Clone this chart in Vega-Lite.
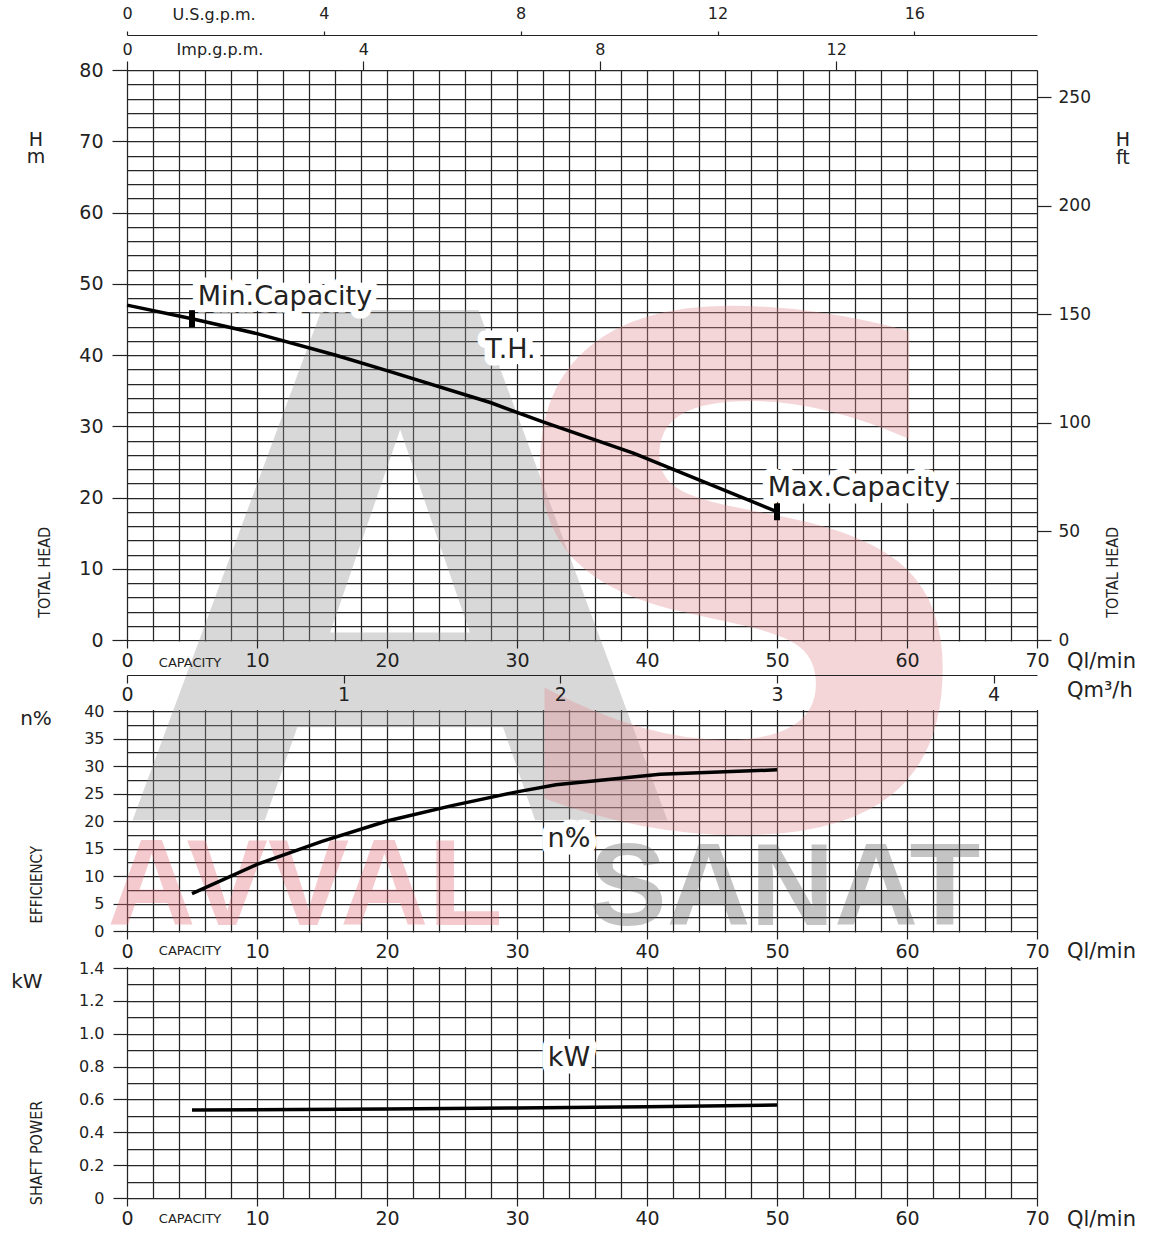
{
  "$schema": "https://vega.github.io/schema/vega-lite/v6.json",
  "background": "white",
  "padding": {"left": 11, "top": 5, "right": 5, "bottom": 5},
  "config": {
    "view": {"stroke": null},
    "font": "DejaVu Sans",
    "axis": {
      "labelFont": "DejaVu Sans",
      "labelColor": "#222",
      "tickColor": "#222",
      "domainColor": "#222",
      "gridColor": "#262626",
      "gridWidth": 1.25,
      "gridOpacity": 1,
      "tickWidth": 1.2,
      "domainWidth": 1.2,
      "labelOverlap": false,
      "labelFlush": false
    },
    "text": {"font": "DejaVu Sans", "color": "#222"}
  },
  "datasets": {
    "head": [
      {"Q": 0, "H": 47.0}, {"Q": 5, "H": 45.1}, {"Q": 10, "H": 43.0}, {"Q": 16, "H": 40.0},
      {"Q": 20, "H": 37.8}, {"Q": 28, "H": 33.3}, {"Q": 32, "H": 30.6}, {"Q": 39, "H": 26.2},
      {"Q": 50, "H": 18.0}
    ],
    "limits": [{"Q": 5, "H": 45.1}, {"Q": 50, "H": 18.0}],
    "eff": [
      {"Q": 5, "E": 6.8}, {"Q": 10, "E": 12.1}, {"Q": 15, "E": 16.3}, {"Q": 20, "E": 20.0},
      {"Q": 25, "E": 22.8}, {"Q": 30, "E": 25.3}, {"Q": 33, "E": 26.6}, {"Q": 41, "E": 28.5},
      {"Q": 50, "E": 29.3}
    ],
    "power": [
      {"Q": 5, "P": 0.535}, {"Q": 20, "P": 0.542}, {"Q": 30, "P": 0.548}, {"Q": 40, "P": 0.556},
      {"Q": 50, "P": 0.566}
    ]
  },
  "width": 910,
  "height": 1128,
  "resolve": {"scale": {"y": "independent"}, "axis": {"x": "independent", "y": "independent"}},
  "layer": [
    {
      "data": {"values": [{}]},
      "mark": {"type": "rect", "fill": "white", "opacity": 1},
      "encoding": {
        "x": {"datum": -0.3, "type": "quantitative", "scale": {"domain": [0, 70], "nice": false, "zero": false}, "axis": null},
        "x2": {"datum": 70.3},
        "y": {"datum": 0, "type": "quantitative", "scale": {"domain": [0, 1], "range": [640, 571.5], "nice": false, "zero": false}, "axis": null},
        "y2": {"datum": 1}
      }
    },
    {
      "data": {"values": [{}]},
      "mark": {"type": "rect", "fill": "white", "opacity": 1},
      "encoding": {
        "x": {"datum": -0.3, "type": "quantitative", "axis": null},
        "x2": {"datum": 70.3},
        "y": {"datum": 0, "type": "quantitative", "scale": {"domain": [0, 1], "range": [897, 862.5], "nice": false, "zero": false}, "axis": null},
        "y2": {"datum": 1}
      }
    },
    {
      "data": {"values": [{"Q": 21.0, "H": -25.3, "t": "A"}]},
      "mark": {"type": "text", "font": "DejaVu Sans", "fontWeight": "bold", "fontSize": 700, "align": "center", "baseline": "alphabetic", "color": "#929292", "opacity": 0.35},
      "encoding": {
        "x": {"field": "Q", "type": "quantitative", "axis": null},
        "y": {"field": "H", "type": "quantitative", "scale": {"domain": [0, 80], "range": [570, 0], "nice": false, "zero": false}, "axis": null},
        "text": {"field": "t", "type": "nominal"}}
    },
    {
      "data": {"values": [{"Q": 47.3, "H": -26.0, "t": "S"}]},
      "mark": {"type": "text", "font": "DejaVu Sans", "fontWeight": "bold", "fontSize": 700, "align": "center", "baseline": "alphabetic", "color": "#e28d92", "opacity": 0.35},
      "encoding": {
        "x": {"field": "Q", "type": "quantitative", "axis": null},
        "y": {"field": "H", "type": "quantitative", "scale": {"domain": [0, 80], "range": [570, 0], "nice": false, "zero": false}, "axis": null},
        "text": {"field": "t", "type": "nominal"}}
    },
    {
      "data": {"values": [{"Q": 13.7, "H": -40.0, "t": "AVVAL"}]},
      "mark": {"type": "text", "font": "Liberation Sans", "fontWeight": "bold", "fontSize": 122, "align": "center", "baseline": "alphabetic", "color": "#e06a74", "opacity": 0.35},
      "encoding": {
        "x": {"field": "Q", "type": "quantitative", "axis": null},
        "y": {"field": "H", "type": "quantitative", "scale": {"domain": [0, 80], "range": [570, 0], "nice": false, "zero": false}, "axis": null},
        "text": {"field": "t", "type": "nominal"}}
    },
    {
      "data": {"values": [{"Q": 50.6, "H": -40.0, "t": "SANAT"}]},
      "mark": {"type": "text", "font": "Liberation Sans", "fontWeight": "bold", "fontSize": 116, "align": "center", "baseline": "alphabetic", "color": "#5a5a5a", "opacity": 0.35},
      "encoding": {
        "x": {"field": "Q", "type": "quantitative", "axis": null},
        "y": {"field": "H", "type": "quantitative", "scale": {"domain": [0, 80], "range": [570, 0], "nice": false, "zero": false}, "axis": null},
        "text": {"field": "t", "type": "nominal"}}
    },
    {
      "data": {"name": "head"},
      "mark": {"type": "line", "color": "black", "strokeWidth": 3.5},
      "encoding": {
        "x": {"field": "Q", "type": "quantitative", "axis": null},
        "y": {"field": "H", "type": "quantitative",
          "scale": {"domain": [0, 80], "range": [570, 0], "nice": false, "zero": false},
          "axis": {"orient": "left", "title": null, "grid": true, "domain": false,
            "values": [0,2,4,6,8,10,12,14,16,18,20,22,24,26,28,30,32,34,36,38,40,42,44,46,48,50,52,54,56,58,60,62,64,66,68,70,72,74,76,78,80],
            "tickSize": 15,
            "tickOpacity": {"condition": {"test": "datum.value % 10 === 0", "value": 1}, "value": 0},
            "labelExpr": "datum.value % 10 === 0 ? datum.label : ''",
            "labelFontSize": 19, "labelPadding": 9}}
      }
    },
    {
      "data": {"name": "limits"},
      "mark": {"type": "tick", "orient": "vertical", "size": 17, "thickness": 6, "color": "black", "opacity": 1},
      "encoding": {
        "x": {"field": "Q", "type": "quantitative", "axis": null},
        "y": {"field": "H", "type": "quantitative", "scale": {"domain": [0, 80], "range": [570, 0], "nice": false, "zero": false}, "axis": null}}
    },
    {
      "data": {"values": [
        {"Q": 12.15, "H": 48.1, "t": "Min.Capacity"},
        {"Q": 29.5, "H": 40.7, "t": "T.H."},
        {"Q": 56.3, "H": 21.3, "t": "Max.Capacity"}
      ]},
      "mark": {"type": "text", "fontSize": 27, "align": "center", "baseline": "middle", "fill": "white", "stroke": "white", "strokeWidth": 15, "strokeJoin": "round"},
      "encoding": {
        "x": {"field": "Q", "type": "quantitative", "axis": null},
        "y": {"field": "H", "type": "quantitative", "scale": {"domain": [0, 80], "range": [570, 0], "nice": false, "zero": false}, "axis": null},
        "text": {"field": "t", "type": "nominal"}}
    },
    {
      "data": {"values": [
        {"Q": 12.15, "H": 48.1, "t": "Min.Capacity"},
        {"Q": 29.5, "H": 40.7, "t": "T.H."},
        {"Q": 56.3, "H": 21.3, "t": "Max.Capacity"}
      ]},
      "mark": {"type": "text", "fontSize": 27, "align": "center", "baseline": "middle", "color": "#222"},
      "encoding": {
        "x": {"field": "Q", "type": "quantitative", "axis": null},
        "y": {"field": "H", "type": "quantitative", "scale": {"domain": [0, 80], "range": [570, 0], "nice": false, "zero": false}, "axis": null},
        "text": {"field": "t", "type": "nominal"}}
    },
    {
      "data": {"values": [
        {"Q": -7.0, "H": 70.2, "t": "H"},
        {"Q": -7.0, "H": 67.8, "t": "m"},
        {"Q": 76.6, "H": 70.2, "t": "H"},
        {"Q": 76.6, "H": 67.6, "t": "ft"}
      ]},
      "mark": {"type": "text", "fontSize": 19, "align": "center", "baseline": "middle", "color": "#222"},
      "encoding": {
        "x": {"field": "Q", "type": "quantitative", "axis": null},
        "y": {"field": "H", "type": "quantitative", "scale": {"domain": [0, 80], "range": [570, 0], "nice": false, "zero": false}, "axis": null},
        "text": {"field": "t", "type": "nominal"}}
    },
    {
      "data": {"values": [
        {"Q": 72.3, "H": -3.1, "t": "Ql/min"},
        {"Q": 72.3, "H": -7.2, "t": "Qm³/h"}
      ]},
      "mark": {"type": "text", "fontSize": 21, "align": "left", "baseline": "middle", "color": "#222"},
      "encoding": {
        "x": {"field": "Q", "type": "quantitative", "axis": null},
        "y": {"field": "H", "type": "quantitative", "scale": {"domain": [0, 80], "range": [570, 0], "nice": false, "zero": false}, "axis": null},
        "text": {"field": "t", "type": "nominal"}}
    },
    {
      "data": {"values": [
        {"Q": 6.7, "H": 87.7, "t": "U.S.g.p.m."},
        {"Q": 7.15, "H": 82.8, "t": "Imp.g.p.m."}
      ]},
      "mark": {"type": "text", "fontSize": 16, "align": "center", "baseline": "middle", "color": "#222"},
      "encoding": {
        "x": {"field": "Q", "type": "quantitative", "axis": null},
        "y": {"field": "H", "type": "quantitative", "scale": {"domain": [0, 80], "range": [570, 0], "nice": false, "zero": false}, "axis": null},
        "text": {"field": "t", "type": "nominal"}}
    },
    {
      "data": {"values": [{"Q": 4.85, "H": -3.2, "t": "CAPACITY"}]},
      "mark": {"type": "text", "fontSize": 13, "align": "center", "baseline": "middle", "color": "#222"},
      "encoding": {
        "x": {"field": "Q", "type": "quantitative", "axis": null},
        "y": {"field": "H", "type": "quantitative", "scale": {"domain": [0, 80], "range": [570, 0], "nice": false, "zero": false}, "axis": null},
        "text": {"field": "t", "type": "nominal"}}
    },
    {
      "data": {"values": [
        {"Q": -6.3, "H": 9.5, "t": "TOTAL HEAD"},
        {"Q": 75.85, "H": 9.5, "t": "TOTAL HEAD"}
      ]},
      "mark": {"type": "text", "font": "DejaVu Sans Condensed, Roboto", "fontSize": 16, "angle": 270, "align": "center", "baseline": "middle", "color": "#222"},
      "encoding": {
        "x": {"field": "Q", "type": "quantitative", "axis": null},
        "y": {"field": "H", "type": "quantitative", "scale": {"domain": [0, 80], "range": [570, 0], "nice": false, "zero": false}, "axis": null},
        "text": {"field": "t", "type": "nominal"}}
    },
    {
      "data": {"name": "eff"},
      "mark": {"type": "line", "color": "black", "strokeWidth": 3.5},
      "encoding": {
        "x": {"field": "Q", "type": "quantitative", "axis": null},
        "y": {"field": "E", "type": "quantitative",
          "scale": {"domain": [0, 40], "range": [861, 641], "nice": false, "zero": false},
          "axis": {"orient": "left", "title": null, "grid": true, "domain": false,
            "values": [0,2.5,5,7.5,10,12.5,15,17.5,20,22.5,25,27.5,30,32.5,35,37.5,40],
            "tickSize": 14,
            "tickOpacity": {"condition": {"test": "datum.value % 5 === 0", "value": 1}, "value": 0},
            "labelExpr": "datum.value % 5 === 0 ? datum.label : ''",
            "labelFontSize": 16, "labelPadding": 9}}
      }
    },
    {
      "data": {"values": [{"Q": 34.0, "E": 16.7, "t": "n%"}]},
      "mark": {"type": "text", "fontSize": 27, "align": "center", "baseline": "middle", "fill": "white", "stroke": "white", "strokeWidth": 15, "strokeJoin": "round"},
      "encoding": {
        "x": {"field": "Q", "type": "quantitative", "axis": null},
        "y": {"field": "E", "type": "quantitative", "scale": {"domain": [0, 40], "range": [861, 641], "nice": false, "zero": false}, "axis": null},
        "text": {"field": "t", "type": "nominal"}}
    },
    {
      "data": {"values": [{"Q": 34.0, "E": 16.7, "t": "n%"}]},
      "mark": {"type": "text", "fontSize": 27, "align": "center", "baseline": "middle", "color": "#222"},
      "encoding": {
        "x": {"field": "Q", "type": "quantitative", "axis": null},
        "y": {"field": "E", "type": "quantitative", "scale": {"domain": [0, 40], "range": [861, 641], "nice": false, "zero": false}, "axis": null},
        "text": {"field": "t", "type": "nominal"}}
    },
    {
      "data": {"values": [{"Q": -7.0, "E": 38.5, "t": "n%"}]},
      "mark": {"type": "text", "fontSize": 20, "align": "center", "baseline": "middle", "color": "#222"},
      "encoding": {
        "x": {"field": "Q", "type": "quantitative", "axis": null},
        "y": {"field": "E", "type": "quantitative", "scale": {"domain": [0, 40], "range": [861, 641], "nice": false, "zero": false}, "axis": null},
        "text": {"field": "t", "type": "nominal"}}
    },
    {
      "data": {"values": [{"Q": 72.3, "E": -3.9, "t": "Ql/min"}]},
      "mark": {"type": "text", "fontSize": 21, "align": "left", "baseline": "middle", "color": "#222"},
      "encoding": {
        "x": {"field": "Q", "type": "quantitative", "axis": null},
        "y": {"field": "E", "type": "quantitative", "scale": {"domain": [0, 40], "range": [861, 641], "nice": false, "zero": false}, "axis": null},
        "text": {"field": "t", "type": "nominal"}}
    },
    {
      "data": {"values": [{"Q": 4.85, "E": -3.6, "t": "CAPACITY"}]},
      "mark": {"type": "text", "fontSize": 13, "align": "center", "baseline": "middle", "color": "#222"},
      "encoding": {
        "x": {"field": "Q", "type": "quantitative", "axis": null},
        "y": {"field": "E", "type": "quantitative", "scale": {"domain": [0, 40], "range": [861, 641], "nice": false, "zero": false}, "axis": null},
        "text": {"field": "t", "type": "nominal"}}
    },
    {
      "data": {"values": [{"Q": -6.9, "E": 8.4, "t": "EFFICIENCY"}]},
      "mark": {"type": "text", "font": "DejaVu Sans Condensed, Roboto", "fontSize": 15, "angle": 270, "align": "center", "baseline": "middle", "color": "#222"},
      "encoding": {
        "x": {"field": "Q", "type": "quantitative", "axis": null},
        "y": {"field": "E", "type": "quantitative", "scale": {"domain": [0, 40], "range": [861, 641], "nice": false, "zero": false}, "axis": null},
        "text": {"field": "t", "type": "nominal"}}
    },
    {
      "data": {"name": "power"},
      "mark": {"type": "line", "color": "black", "strokeWidth": 3.5},
      "encoding": {
        "x": {"field": "Q", "type": "quantitative", "axis": null},
        "y": {"field": "P", "type": "quantitative",
          "scale": {"domain": [0, 1.4], "range": [1128, 898], "nice": false, "zero": false},
          "axis": {"orient": "left", "title": null, "grid": true, "domain": false,
            "values": [0,0.1,0.2,0.3,0.4,0.5,0.6,0.7,0.8,0.9,1.0,1.1,1.2,1.3,1.4],
            "tickSize": 14,
            "tickOpacity": {"condition": {"test": "round(datum.value * 10) % 2 === 0", "value": 1}, "value": 0},
            "labelExpr": "round(datum.value * 10) % 2 === 0 ? (datum.value === 0 ? '0' : format(datum.value, '.1f')) : ''",
            "labelFontSize": 16, "labelPadding": 9}}
      }
    },
    {
      "data": {"values": [{"Q": 34.0, "P": 0.852, "t": "kW"}]},
      "mark": {"type": "text", "fontSize": 27, "align": "center", "baseline": "middle", "fill": "white", "stroke": "white", "strokeWidth": 15, "strokeJoin": "round"},
      "encoding": {
        "x": {"field": "Q", "type": "quantitative", "axis": null},
        "y": {"field": "P", "type": "quantitative", "scale": {"domain": [0, 1.4], "range": [1128, 898], "nice": false, "zero": false}, "axis": null},
        "text": {"field": "t", "type": "nominal"}}
    },
    {
      "data": {"values": [{"Q": 34.0, "P": 0.852, "t": "kW"}]},
      "mark": {"type": "text", "fontSize": 27, "align": "center", "baseline": "middle", "color": "#222"},
      "encoding": {
        "x": {"field": "Q", "type": "quantitative", "axis": null},
        "y": {"field": "P", "type": "quantitative", "scale": {"domain": [0, 1.4], "range": [1128, 898], "nice": false, "zero": false}, "axis": null},
        "text": {"field": "t", "type": "nominal"}}
    },
    {
      "data": {"values": [{"Q": -7.7, "P": 1.315, "t": "kW"}]},
      "mark": {"type": "text", "fontSize": 20, "align": "center", "baseline": "middle", "color": "#222"},
      "encoding": {
        "x": {"field": "Q", "type": "quantitative", "axis": null},
        "y": {"field": "P", "type": "quantitative", "scale": {"domain": [0, 1.4], "range": [1128, 898], "nice": false, "zero": false}, "axis": null},
        "text": {"field": "t", "type": "nominal"}}
    },
    {
      "data": {"values": [{"Q": 72.3, "P": -0.134, "t": "Ql/min"}]},
      "mark": {"type": "text", "fontSize": 21, "align": "left", "baseline": "middle", "color": "#222"},
      "encoding": {
        "x": {"field": "Q", "type": "quantitative", "axis": null},
        "y": {"field": "P", "type": "quantitative", "scale": {"domain": [0, 1.4], "range": [1128, 898], "nice": false, "zero": false}, "axis": null},
        "text": {"field": "t", "type": "nominal"}}
    },
    {
      "data": {"values": [{"Q": 4.85, "P": -0.128, "t": "CAPACITY"}]},
      "mark": {"type": "text", "fontSize": 13, "align": "center", "baseline": "middle", "color": "#222"},
      "encoding": {
        "x": {"field": "Q", "type": "quantitative", "axis": null},
        "y": {"field": "P", "type": "quantitative", "scale": {"domain": [0, 1.4], "range": [1128, 898], "nice": false, "zero": false}, "axis": null},
        "text": {"field": "t", "type": "nominal"}}
    },
    {
      "data": {"values": [{"Q": -6.9, "P": 0.274, "t": "SHAFT POWER"}]},
      "mark": {"type": "text", "font": "DejaVu Sans Condensed, Roboto", "fontSize": 16, "angle": 270, "align": "center", "baseline": "middle", "color": "#222"},
      "encoding": {
        "x": {"field": "Q", "type": "quantitative", "axis": null},
        "y": {"field": "P", "type": "quantitative", "scale": {"domain": [0, 1.4], "range": [1128, 898], "nice": false, "zero": false}, "axis": null},
        "text": {"field": "t", "type": "nominal"}}
    },
    {
      "data": {"values": [{"Q": 0}]},
      "mark": {"type": "rule", "opacity": 0},
      "encoding": {
        "x": {"field": "Q", "type": "quantitative",
          "axis": {"orient": "bottom", "title": null, "grid": true, "domain": false, "ticks": false, "labels": false, "zindex": 0,
            "values": [0,2,4,6,8,10,12,14,16,18,20,22,24,26,28,30,32,34,36,38,40,42,44,46,48,50,52,54,56,58,60,62,64,66,68,70]}}
      }
    },
    {
      "data": {"values": [{"Q": 0}]},
      "mark": {"type": "rule", "opacity": 0},
      "encoding": {
        "x": {"field": "Q", "type": "quantitative",
          "axis": {"orient": "bottom", "offset": -558, "title": null, "grid": false, "domain": false, "zindex": 1,
            "values": [0, 10, 20, 30, 40, 50, 60, 70], "tickSize": 8, "labelFontSize": 19, "labelPadding": 3}}
      }
    },
    {
      "data": {"values": [{"Q": 0}]},
      "mark": {"type": "rule", "opacity": 0},
      "encoding": {
        "x": {"field": "Q", "type": "quantitative",
          "axis": {"orient": "bottom", "offset": -523, "title": null, "grid": false, "domain": true, "zindex": 1,
            "values": [0, 16.6667, 33.3333, 50, 66.6667], "tickSize": 8, "labelPadding": 2, "labelFontSize": 19,
            "labelExpr": "format(round(datum.value * 0.06), 'd')"}}
      }
    },
    {
      "data": {"values": [{"Q": 0}]},
      "mark": {"type": "rule", "opacity": 0},
      "encoding": {
        "x": {"field": "Q", "type": "quantitative",
          "axis": {"orient": "bottom", "offset": -267, "title": null, "grid": false, "domain": false, "zindex": 1,
            "values": [0, 10, 20, 30, 40, 50, 60, 70], "tickSize": 8, "labelFontSize": 19, "labelPadding": 3}}
      }
    },
    {
      "data": {"values": [{"Q": 0}]},
      "mark": {"type": "rule", "opacity": 0},
      "encoding": {
        "x": {"field": "Q", "type": "quantitative",
          "axis": {"orient": "bottom", "offset": 0, "title": null, "grid": false, "domain": false, "zindex": 1,
            "values": [0, 10, 20, 30, 40, 50, 60, 70], "tickSize": 8, "labelFontSize": 19, "labelPadding": 3}}
      }
    },
    {
      "data": {"values": [{"Q": 0}]},
      "mark": {"type": "rule", "opacity": 0},
      "encoding": {
        "x": {"field": "Q", "type": "quantitative",
          "axis": {"orient": "top", "offset": 35, "title": null, "grid": false, "domain": true,
            "values": [0, 15.1416, 30.2833, 45.4249, 60.5666], "tickSize": 4, "labelPadding": 10, "labelFontSize": 16,
            "labelExpr": "format(round(datum.value / 3.78541), 'd')"}}
      }
    },
    {
      "data": {"values": [{"Q": 0}]},
      "mark": {"type": "rule", "opacity": 0},
      "encoding": {
        "x": {"field": "Q", "type": "quantitative",
          "axis": {"orient": "top", "offset": 0, "title": null, "grid": false, "domain": false,
            "values": [0, 18.1844, 36.3687, 54.5531], "tickSize": 9, "labelPadding": 4, "labelFontSize": 16,
            "labelExpr": "format(round(datum.value / 4.54609), 'd')"}}
      }
    },
    {
      "data": {"values": [{"H": 0}]},
      "mark": {"type": "rule", "opacity": 0},
      "encoding": {
        "y": {"field": "H", "type": "quantitative",
          "scale": {"domain": [0, 80], "range": [570, 0], "nice": false, "zero": false},
          "axis": {"orient": "right", "title": null, "grid": false, "domain": false,
            "values": [0, 15.24, 30.48, 45.72, 60.96, 76.2], "tickSize": 14, "labelPadding": 7, "labelFontSize": 17,
            "labelExpr": "format(round(datum.value / 0.3048), 'd')"}}
      }
    }
  ]
}
